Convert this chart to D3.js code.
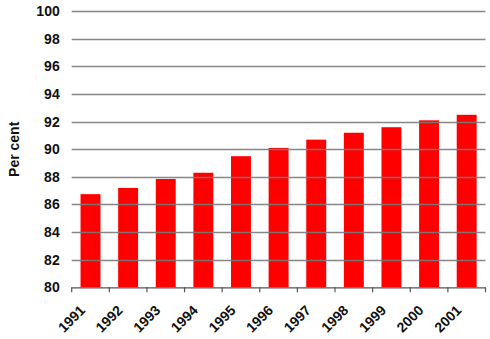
<!DOCTYPE html>
<html>
<head>
<meta charset="utf-8">
<script src="https://cdn.jsdelivr.net/npm/d3@7"></script>
<style>
  html, body { margin: 0; padding: 0; background: #fff; }
  svg { display: block; }
  text { font-family: "Liberation Sans", Arial, sans-serif; }
</style>
</head>
<body>
<svg id="chart" width="490" height="339"></svg>
<script>
// Share of population (per cent), 1991–2001
const years = ["1991", "1992", "1993", "1994", "1995", "1996", "1997", "1998", "1999", "2000", "2001"];
const values = [86.75, 87.2, 87.85, 88.3, 89.5, 90.1, 90.7, 91.2, 91.6, 92.1, 92.5];
const yTicks = [80, 82, 84, 86, 88, 90, 92, 94, 96, 98, 100];

const svg = d3.select("#chart");
const margin = { left: 71.7, right: 4.5, top: 11.3, bottom: 51.7 };
const W = 490, H = 339;

const x = d3.scaleBand()
  .domain(years)
  .range([margin.left, W - margin.right])
  .paddingInner(0.47)
  .paddingOuter(0.235);

const xOuter = d3.scaleBand()
  .domain(years)
  .range([margin.left, W - margin.right]);

const y = d3.scaleLinear()
  .domain([80, 100])
  .range([H - margin.bottom, margin.top]);

// bars
svg.append("g")
  .selectAll("rect")
  .data(values)
  .join("rect")
  .attr("x", (d, i) => x(years[i]))
  .attr("width", x.bandwidth())
  .attr("y", d => y(d))
  .attr("height", d => y(80) - y(d))
  .attr("fill", "#ff0000");

// horizontal gridlines, drawn over the bars
svg.append("g")
  .selectAll("line")
  .data(yTicks.filter(t => t > 80))
  .join("line")
  .attr("x1", margin.left)
  .attr("x2", W - margin.right)
  .attr("y1", d => Math.round(y(d)) + 0.5)
  .attr("y2", d => Math.round(y(d)) + 0.5)
  .attr("stroke", "#7a7a7a")
  .attr("stroke-width", 1.5)
  .attr("stroke-opacity", 0.9);

// y tick labels
const yAxis = d3.axisLeft(y).tickValues(yTicks).tickSize(0).tickPadding(12);
const gy = svg.append("g")
  .attr("transform", `translate(${margin.left},0)`)
  .call(yAxis);
gy.select(".domain").remove();
gy.selectAll("text")
  .attr("font-size", 14)
  .attr("font-weight", "bold")
  .attr("font-family", "Liberation Sans, Arial, sans-serif")
  .attr("fill", "#111");

// x axis with ticks between categories
const xBase = y(80);
const gx = svg.append("g");
gx.append("line")
  .attr("x1", margin.left).attr("x2", W - margin.right)
  .attr("y1", xBase + 0.5).attr("y2", xBase + 0.5)
  .attr("stroke", "#555").attr("stroke-width", 1.2);
gx.selectAll("line.tick")
  .data(years.concat(["end"]))
  .join("line")
  .attr("class", "tick")
  .attr("x1", (d, i) => i < years.length ? xOuter(d) : W - margin.right)
  .attr("x2", (d, i) => i < years.length ? xOuter(d) : W - margin.right)
  .attr("y1", xBase)
  .attr("y2", xBase + 5)
  .attr("stroke", "#555").attr("stroke-width", 1.2);

gx.selectAll("text")
  .data(years)
  .join("text")
  .attr("transform", d => `translate(${xOuter(d) + xOuter.bandwidth() / 2 - 4.5},${xBase + 24}) rotate(-45)`)
  .attr("text-anchor", "end")
  .attr("font-size", 14)
  .attr("font-weight", "bold")
  .attr("fill", "#111")
  .text(d => d);

// y axis title
svg.append("text")
  .attr("transform", `translate(19,${(margin.top + H - margin.bottom) / 2}) rotate(-90)`)
  .attr("text-anchor", "middle")
  .attr("font-size", 14)
  .attr("font-weight", "bold")
  .attr("fill", "#111")
  .text("Per cent");
</script>
</body>
</html>
